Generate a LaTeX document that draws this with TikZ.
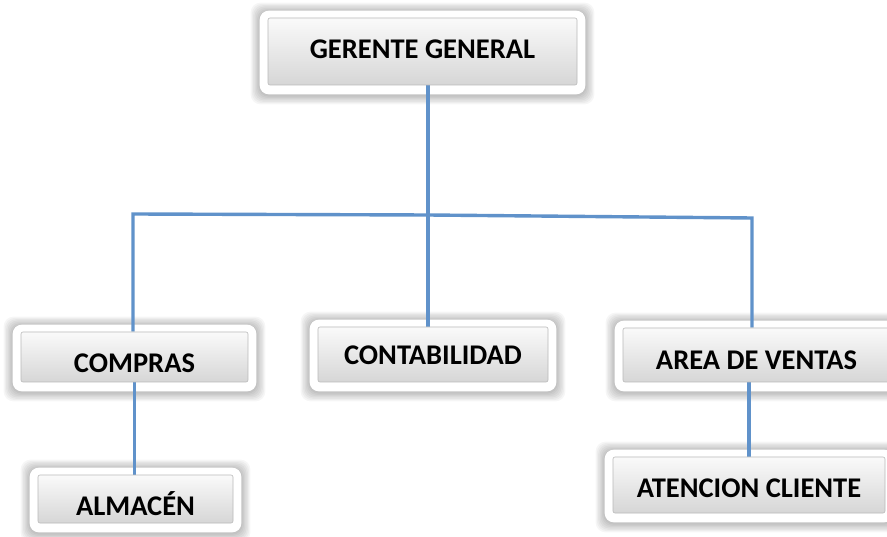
\documentclass[tikz,border=0pt]{standalone}
\usepackage{fontspec}
\setmainfont{Carlito}
\usetikzlibrary{fit,calc}
\pgfdeclarelayer{outer}
\pgfdeclarelayer{lines}
\pgfsetlayers{outer,lines,main}
\definecolor{linkblue}{RGB}{96,146,202}
\begin{document}
\begin{tikzpicture}[x=1pt,y=-1pt,
  bar/.style={draw=gray!55, line width=0.6pt, rounded corners=2pt,
    top color=white!98!black, bottom color=white!84!black,
    font=\fontsize{28.5}{30}\selectfont\bfseries, inner sep=0pt, text depth=0pt},
  link/.style={draw=linkblue, line width=3.4pt},
  shade box/.style={fill=black, opacity=0.035, draw=none, rounded corners=10pt},
  white box/.style={fill=white, draw=none, rounded corners=9pt, inner sep=8pt}
  ]
\useasboundingbox (0,0) rectangle (887,537);
\begin{pgfonlayer}{outer}
  \fill[white] (0,0) rectangle (887,537);
\end{pgfonlayer}

% inner bars with text
\node[bar, minimum width=309pt, minimum height=67pt, text height=15pt] (g) at (422.5,51.5) {GERENTE GENERAL};
\node[bar, minimum width=227pt, minimum height=50pt, text height=32pt] (c) at (134.5,357) {COMPRAS};
\node[bar, minimum width=230pt, minimum height=55pt, text height=21pt] (cont) at (433,354.5) {CONTABILIDAD};
\node[bar, minimum width=267pt, minimum height=54pt, text height=30pt] (a) at (756.5,355) {AREA DE VENTAS};
\node[bar, minimum width=195pt, minimum height=48pt, text height=32pt] (alm) at (135.5,499) {ALMACÉN};
\node[bar, minimum width=272pt, minimum height=56pt, text height=24pt] (at) at (749,485) {ATENCION CLIENTE};

% outer white boxes with soft shadow
\begin{pgfonlayer}{outer}
  \foreach \n in {g,c,cont,a,alm,at}{
    \foreach \k in {1,...,7}{
      \node[shade box, fit=(\n), inner sep=8pt+\k*1.3pt, yshift=-2pt] {};
    }
    \node[white box, fit=(\n), yshift=-1pt] (\n-o) {};
  }
\end{pgfonlayer}

% connectors
\coordinate (hub) at (428,215);
\coordinate (bl) at (133,214);
\coordinate (br) at (752,218);
\begin{pgfonlayer}{lines}
  \draw[link] (hub |- g.south) -- (hub |- cont.north);
  \draw[link] (bl |- c.north) -- (bl) -- (hub) -- (br) -- (br |- a.north);
  \draw[link] (c.south) -- (c.south |- alm.north);
  \draw[link] (at.north |- a.south) -- (at.north);
\end{pgfonlayer}
\end{tikzpicture}
\end{document}
